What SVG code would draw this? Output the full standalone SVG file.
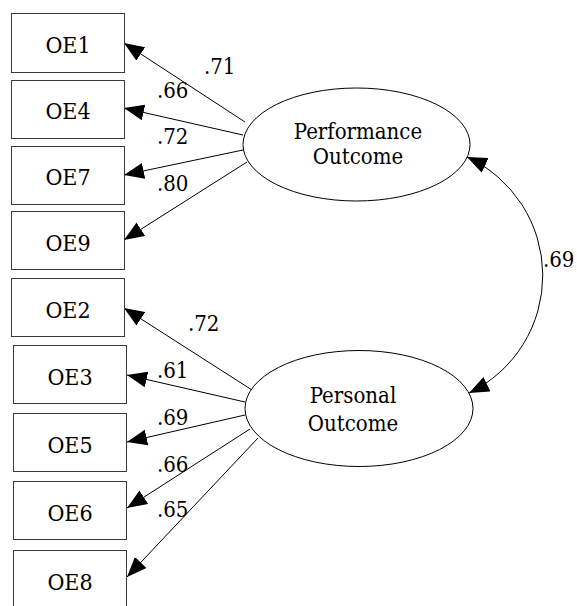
<svg xmlns="http://www.w3.org/2000/svg" width="577" height="606" viewBox="0 0 577 606">
  <style>
    .box { fill: #ffffff; stroke: #3a3a3a; stroke-width: 1; }
    .lat { fill: #ffffff; stroke: #000000; stroke-width: 1; }
    .edge { fill: none; stroke: #000000; stroke-width: 1; marker-end: url(#ah); }
    .corr { fill: none; stroke: #000000; stroke-width: 1; marker-start: url(#ah); marker-end: url(#ah); }
    .serif { font-stretch: condensed; fill: #000000; }
    .name { font-size: 23px; text-anchor: middle; }
    .lname { font-size: 22px; text-anchor: middle; }
    .coef { font-size: 22px; }
  </style>
  <defs>
    <marker id="ah" markerWidth="21" markerHeight="17" refX="20" refY="8" orient="auto-start-reverse" markerUnits="userSpaceOnUse">
      <path d="M0,0 L20,8 L0,16 z" fill="#000000"/>
    </marker>
  </defs>
  <rect width="577" height="606" fill="#ffffff"/>

  <!-- loadings and correlation -->
  <g id="connectors">
    <line class="edge" x1="245" y1="122" x2="124" y2="43"/>
    <line class="edge" x1="243" y1="135" x2="124" y2="108"/>
    <line class="edge" x1="243" y1="150" x2="124" y2="175"/>
    <line class="edge" x1="247" y1="162" x2="124" y2="240"/>

    <line class="edge" x1="252" y1="390" x2="124" y2="308"/>
    <line class="edge" x1="245" y1="402" x2="127" y2="375"/>
    <line class="edge" x1="245" y1="415" x2="127" y2="442"/>
    <line class="edge" x1="250" y1="429" x2="127" y2="508"/>
    <line class="edge" x1="258" y1="438" x2="127" y2="577"/>

    <path class="corr" d="M467,157 A130.5,130.5 0 0 1 469,393"/>

    <g class="serif" font-family="DejaVu Serif Condensed, DejaVu Serif, serif">
      <text class="coef" x="204" y="74">.71</text>
      <text class="coef" x="157" y="98">.66</text>
      <text class="coef" x="157" y="144">.72</text>
      <text class="coef" x="157" y="191">.80</text>
      <text class="coef" x="188" y="331">.72</text>
      <text class="coef" x="157" y="378">.61</text>
      <text class="coef" x="157" y="425">.69</text>
      <text class="coef" x="157" y="472">.66</text>
      <text class="coef" x="157" y="517">.65</text>
      <text class="coef" x="543" y="267">.69</text>
    </g>
  </g>

  <!-- latent variables -->
  <g id="performance" class="serif" font-family="DejaVu Serif Condensed, DejaVu Serif, serif">
    <ellipse class="lat" cx="356.5" cy="144.5" rx="113.5" ry="56.5"/>
    <text class="lname" x="358" y="139">Performance</text>
    <text class="lname" x="358" y="164">Outcome</text>
  </g>
  <g id="personal" class="serif" font-family="DejaVu Serif Condensed, DejaVu Serif, serif">
    <ellipse class="lat" cx="359" cy="408.5" rx="114" ry="58"/>
    <text class="lname" x="353" y="403">Personal</text>
    <text class="lname" x="353" y="431">Outcome</text>
  </g>

  <!-- observed items -->
  <g class="serif" font-family="DejaVu Serif Condensed, DejaVu Serif, serif">
    <g id="oe1"><rect class="box" x="11.5" y="13.5" width="113" height="59"/><text class="name" x="68" y="53">OE1</text></g>
    <g id="oe4"><rect class="box" x="11.5" y="80.5" width="113" height="58"/><text class="name" x="68" y="119">OE4</text></g>
    <g id="oe7"><rect class="box" x="11.5" y="146.5" width="113" height="58"/><text class="name" x="68" y="185">OE7</text></g>
    <g id="oe9"><rect class="box" x="11.5" y="211.5" width="113" height="58"/><text class="name" x="68" y="251">OE9</text></g>

    <g id="oe2"><rect class="box" x="11.5" y="278.5" width="113" height="58"/><text class="name" x="68" y="318">OE2</text></g>
    <g id="oe3"><rect class="box" x="13.5" y="345.5" width="113" height="58"/><text class="name" x="70" y="385">OE3</text></g>
    <g id="oe5"><rect class="box" x="13.5" y="413.5" width="113" height="58"/><text class="name" x="70" y="453">OE5</text></g>
    <g id="oe6"><rect class="box" x="13.5" y="481.5" width="113" height="58"/><text class="name" x="70" y="521">OE6</text></g>
    <g id="oe8"><rect class="box" x="13.5" y="550.5" width="113" height="60"/><text class="name" x="70" y="590">OE8</text></g>
  </g>
</svg>
